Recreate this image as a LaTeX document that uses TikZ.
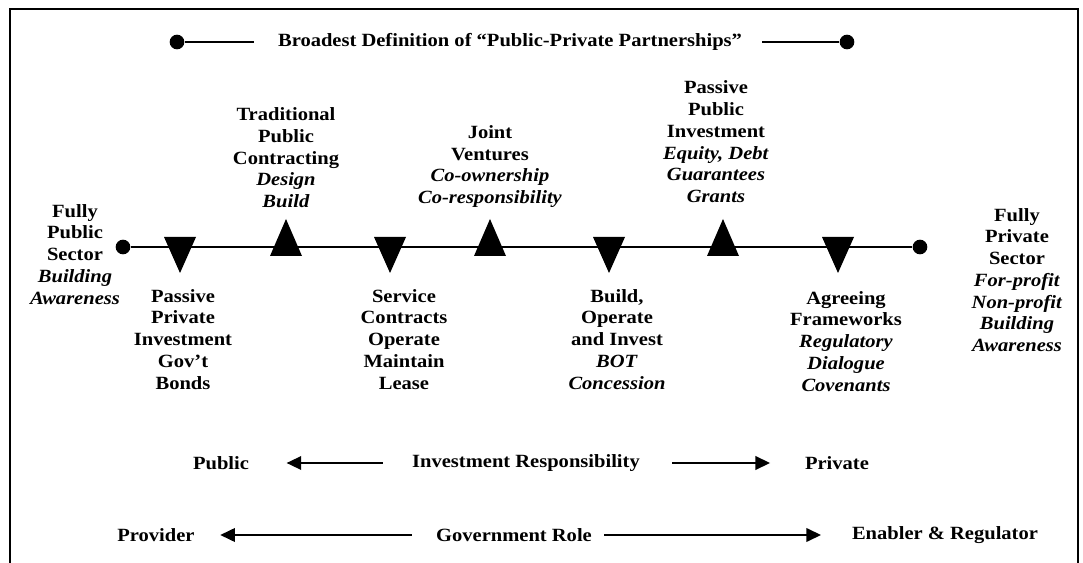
\documentclass[tikz,border=0pt]{standalone}
\usepackage{fontspec}
\setmainfont[FakeStretch=1.1]{Liberation Serif}
\usepackage{tikz}
\usetikzlibrary{shapes,arrows.meta}
\newcommand{\marker}[3]{\fill (#1-16,#2) -- (#1+16,#2) -- (#1,#3) -- cycle;}

\begin{document}
\begin{tikzpicture}[
      x=0.75pt, y=-0.75pt,
      every node/.style={font=\bfseries\fontsize{14}{16.3}\selectfont, align=center, inner sep=0pt},
      enddot/.style={circle, fill=black, minimum size=11pt},
      rule/.style={line width=1.5pt, draw=black},
      pointer/.style={line width=1.8pt, -{Triangle[length=11pt,width=10pt]}, draw=black},
      upper/.style={anchor=south},
      lower/.style={anchor=north}
      ]
      \useasboundingbox (0,0) rectangle (1083,563);
      \draw[rule] (10,563) -- (10,9) -- (1078,9) -- (1078,563);

      \node[enddot] (bleft) at (177,42) {};
      \node (bdef) at (510,42) {Broadest Definition of “Public-Private Partnerships”};
      \node[enddot] (bright) at (847,42) {};
      \path (bdef) edge [rule, shorten <=18pt] (bleft);
      \path (bdef) edge [rule, shorten <=15pt] (bright);

      \node[enddot] (pubend) at (123,247) {};
      \node[enddot] (privend) at (920,247) {};
      \path (pubend) edge [rule] (privend);

      \marker{180}{237}{273}
      \marker{286}{256}{219}
      \marker{390}{237}{273}
      \marker{490}{256}{219}
      \marker{609}{237}{273}
      \marker{723}{256}{219}
      \marker{838}{237}{273}

      \node[lower] (fpub) at (75,204) {Fully\\Public\\Sector\\\textit{Building}\\\textit{Awareness}};
      \node[lower] (ppi) at (183,289) {Passive\\Private\\Investment\\Gov’t\\Bonds};
      \node[upper] (tpc) at (286,208) {Traditional\\Public\\Contracting\\\textit{Design}\\\textit{Build}};
      \node[lower] (sc) at (404,289) {Service\\Contracts\\Operate\\Maintain\\Lease};
      \node[upper] (jv) at (490,208) {Joint\\Ventures\\\textit{Co-ownership}\\\textit{Co-responsibility}};
      \node[lower] (boi) at (617,289) {Build,\\Operate\\and Invest\\\textit{BOT}\\\textit{Concession}};
      \node[upper] (ppub) at (716,203) {Passive\\Public\\Investment\\\textit{Equity, Debt}\\\textit{Guarantees}\\\textit{Grants}};
      \node[lower] (af) at (846,291) {Agreeing\\Frameworks\\\textit{Regulatory}\\\textit{Dialogue}\\\textit{Covenants}};
      \node[lower] (fpriv) at (1017,208) {Fully\\Private\\Sector\\\textit{For-profit}\\\textit{Non-profit}\\\textit{Building}\\\textit{Awareness}};

      \node (pub) at (221,463) {Public};
      \node (invresp) at (526,463) {Investment Responsibility};
      \node (priv) at (837,463) {Private};
      \path (invresp) edge [pointer, shorten <=22pt, shorten >=28pt] (pub);
      \path (invresp) edge [pointer, shorten <=24pt, shorten >=26pt] (priv);

      \node (prov) at (156,535) {Provider};
      \node (govrole) at (514,535) {Government Role};
      \node (enreg) at (945,535) {Enabler \& Regulator};
      \path (govrole) edge [pointer, shorten <=18pt, shorten >=19pt] (prov);
      \path (govrole) edge [pointer, shorten <=9pt, shorten >=23pt] (enreg);
    \end{tikzpicture}
\end{document}
